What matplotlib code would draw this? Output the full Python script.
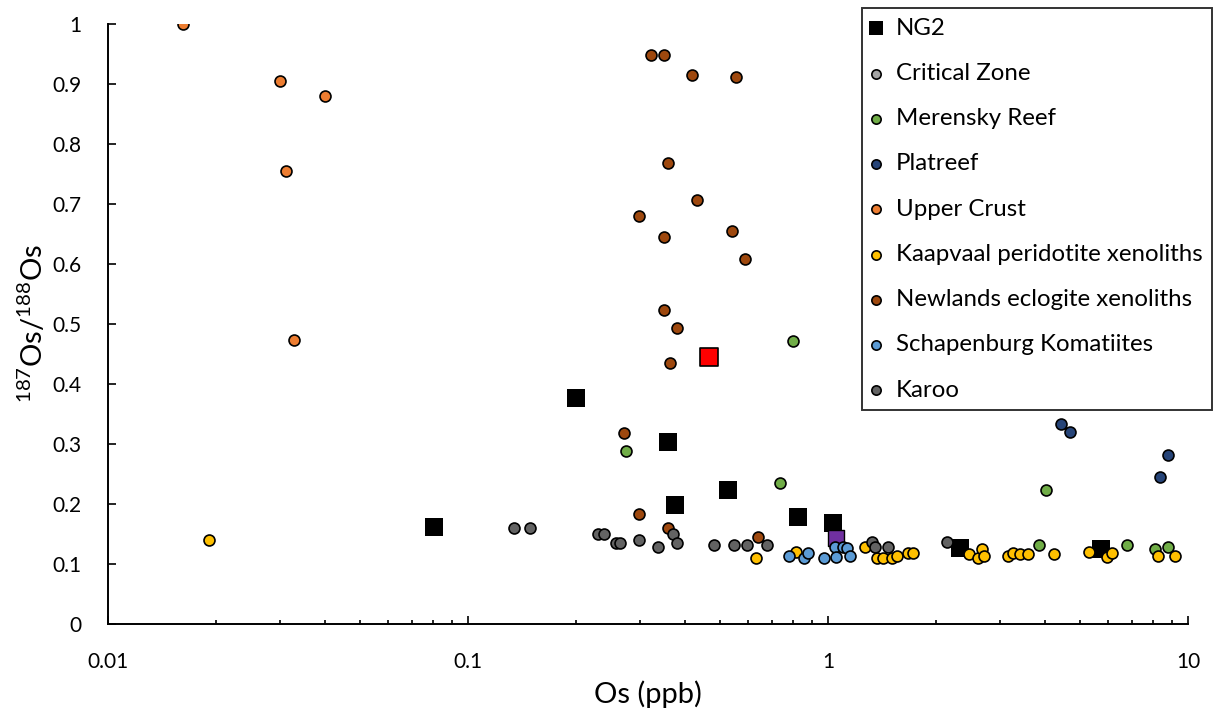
import matplotlib
matplotlib.use("Agg")
import matplotlib.pyplot as plt
from matplotlib.ticker import FixedLocator, LogLocator, NullFormatter

plt.rcParams['font.family'] = ['Lato', 'DejaVu Sans']
plt.rcParams['mathtext.fontset'] = 'custom'
plt.rcParams['mathtext.rm'] = 'Lato'
plt.rcParams['mathtext.it'] = 'Lato'

# ---------------- data ----------------
ng2_x = [0.0804, 0.1995, 0.359, 0.376, 0.528, 0.826, 1.03, 2.33, 5.73]
ng2_y = [0.162, 0.377, 0.304, 0.198, 0.224, 0.178, 0.168, 0.127, 0.125]

critical_x = []
critical_y = []

merensky_x = [0.80, 0.275, 0.736, 4.03, 3.86, 6.77, 8.1, 8.8]
merensky_y = [0.472, 0.288, 0.235, 0.223, 0.132, 0.132, 0.125, 0.128]

platreef_x = [4.44, 4.70, 8.8, 8.36]
platreef_y = [0.333, 0.320, 0.282, 0.245]

crust_x = [0.01616, 0.0301, 0.0401, 0.0312, 0.0329]
crust_y = [1.0, 0.905, 0.88, 0.755, 0.473]

kaap_x = [0.0191, 0.631, 0.815, 1.267, 1.368, 1.42, 1.506, 1.55, 1.668, 1.72,
          2.46, 2.61, 2.68, 2.72, 3.16, 3.27, 3.41, 3.59, 4.24, 5.31, 5.96,
          6.15, 8.25, 9.2]
kaap_y = [0.14, 0.11, 0.12, 0.128, 0.11, 0.11, 0.11, 0.113, 0.118, 0.118,
          0.117, 0.11, 0.125, 0.113, 0.113, 0.118, 0.117, 0.117, 0.117, 0.12,
          0.112, 0.118, 0.113, 0.113]

newlands_x = [0.322, 0.350, 0.419, 0.555, 0.359, 0.433, 0.2985, 0.350, 0.541,
              0.588, 0.350, 0.381, 0.364, 0.271, 0.2985, 0.359, 0.639]
newlands_y = [0.948, 0.948, 0.915, 0.912, 0.768, 0.707, 0.680, 0.645, 0.655,
              0.608, 0.523, 0.493, 0.435, 0.318, 0.183, 0.160, 0.145]

schap_x = [0.779, 0.858, 0.88, 0.975, 1.046, 1.10, 1.055, 1.13, 1.151]
schap_y = [0.113, 0.110, 0.118, 0.110, 0.128, 0.128, 0.112, 0.127, 0.113]

karoo_x = [0.134, 0.1487, 0.2297, 0.2386, 0.257, 0.265, 0.2985, 0.337, 0.371,
           0.381, 0.482, 0.548, 0.596, 0.677, 1.325, 1.35, 1.468, 2.14]
karoo_y = [0.160, 0.160, 0.150, 0.150, 0.135, 0.135, 0.140, 0.128, 0.150,
           0.135, 0.132, 0.132, 0.132, 0.132, 0.137, 0.128, 0.128, 0.137]

red_x = [0.467]
red_y = [0.445]
purple_x = [1.05]
purple_y = [0.143]

y_ticks = [0, 0.1, 0.2, 0.3, 0.4, 0.5, 0.6, 0.7, 0.8, 0.9, 1.0]
y_labels = ['0', '0.1', '0.2', '0.3', '0.4', '0.5', '0.6', '0.7', '0.8', '0.9', '1']
x_ticks = [0.01, 0.1, 1, 10]
x_labels = ['0.01', '0.1', '1', '10']

# ---------------- figure ----------------
W, H = 1219, 719
fig = plt.figure(figsize=(W / 100, H / 100), dpi=100)
ax = fig.add_axes([108 / W, 1 - 624 / H, 1080 / W, 600 / H])

circ = dict(marker='o', s=62, edgecolors='black', linewidths=1.2)
sq_s = 160

ax.scatter(ng2_x, ng2_y, marker='s', s=sq_s, color='black', linewidths=0,
           label='NG2', zorder=2)
ax.scatter(critical_x, critical_y, color='#A5A5A5', label='Critical Zone', zorder=3, **circ)
ax.scatter(merensky_x, merensky_y, color='#70AD47', label='Merensky Reef', zorder=3, **circ)
ax.scatter(platreef_x, platreef_y, color='#264478', label='Platreef', zorder=3, **circ)
ax.scatter(crust_x, crust_y, color='#ED7D31', label='Upper Crust', zorder=3, **circ)
ax.scatter(kaap_x, kaap_y, color='#FFC000', label='Kaapvaal peridotite xenoliths', zorder=3, **circ)
ax.scatter(newlands_x, newlands_y, color='#9E480E', label='Newlands eclogite xenoliths', zorder=3, **circ)
ax.scatter(purple_x, purple_y, marker='s', s=140, color='#7030A0', edgecolors='black',
           linewidths=1.0, zorder=3, label='_nolegend_')
ax.scatter(schap_x, schap_y, color='#5B9BD5', label='Schapenburg Komatiites', zorder=3, **circ)
ax.scatter(karoo_x, karoo_y, color='#636363', label='Karoo', zorder=3, **circ)
ax.scatter(red_x, red_y, marker='s', s=150, color='#FF0000', edgecolors='black',
           linewidths=1.2, zorder=3, label='_nolegend_')

ax.set_xscale('log')
ax.set_xlim(0.01, 10)
ax.set_ylim(0, 1)

ax.yaxis.set_major_locator(FixedLocator(y_ticks))
ax.set_yticklabels(y_labels)
ax.xaxis.set_major_locator(FixedLocator(x_ticks))
ax.set_xticklabels(x_labels)
ax.xaxis.set_minor_locator(LogLocator(base=10, subs=range(2, 10)))
ax.xaxis.set_minor_formatter(NullFormatter())

for side in ['top', 'right']:
    ax.spines[side].set_visible(False)
for side in ['left', 'bottom']:
    ax.spines[side].set_linewidth(1.4)
    ax.spines[side].set_color('black')

ax.tick_params(axis='y', which='major', direction='in', length=6, width=1.2,
               labelsize=15, pad=19, colors='black')
ax.tick_params(axis='x', which='major', direction='in', length=6, width=1.2,
               labelsize=15, pad=20, colors='black')
ax.tick_params(axis='x', which='minor', direction='in', length=3, width=1.2)
ax.tick_params(axis='y', which='minor', left=False)

ax.set_xlabel('Os (ppb)', fontsize=21, labelpad=6)
ax.set_ylabel(r'$\mathregular{^{187}Os/^{188}Os}$', fontsize=21, labelpad=3)

leg = fig.legend(loc='upper left', bbox_to_anchor=(862 / W, 1 - 8 / H),
                 borderaxespad=0, frameon=True, fancybox=False, fontsize=17.3,
                 labelspacing=1.01, handletextpad=0.6, handlelength=0.4,
                 borderpad=0.4, markerscale=0.85)
leg.get_frame().set_edgecolor('black')
leg.get_frame().set_linewidth(1.4)

fig.savefig('out.png', dpi=100)
